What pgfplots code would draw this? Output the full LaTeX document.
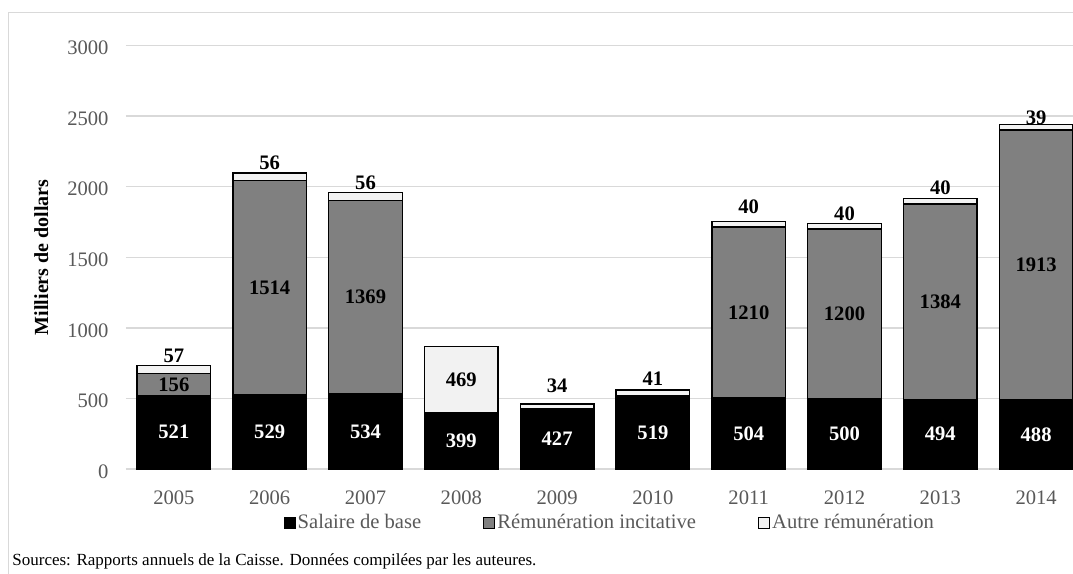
\documentclass[border=0pt]{standalone}
\usepackage{fontspec}
\setmainfont{Liberation Serif}
\usepackage{pgfplots}
\pgfplotsset{compat=1.18}
\usepackage{pgfplotstable}

\definecolor{gridgray}{HTML}{D9D9D9}
\definecolor{textgray}{HTML}{595959}
\definecolor{incitgray}{HTML}{808080}
\definecolor{autrefill}{HTML}{F2F2F2}

% Rémunération (milliers de dollars), 2005 = 0 ... 2014 = 9
\pgfplotstableread{
x y
0 521
1 529
2 534
3 399
4 427
5 519
6 504
7 500
8 494
9 488
}\salaire
\pgfplotstableread{
x y
0 156
1 1514
2 1369
3 0
4 0
5 0
6 1210
7 1200
8 1384
9 1913
}\incitative
% off: shift of the label from the middle of its segment (pt);
% small segments get their label above the bar
\pgfplotstableread{
x y off
0 57 7.0
1 56 7.0
2 56 7.0
3 469 0
4 34 10.3
5 41 7.0
6 40 8.6
7 40 6.1
8 40 6.6
9 39 4.6
}\autre

\newcommand{\labfont}{\fontsize{10.3}{12}\selectfont}

\begin{document}
\begin{tikzpicture}
\path[use as bounding box] (0,0) rectangle (536.5pt,287pt);
\clip (0,0) rectangle (536.5pt,287pt);
\draw[gridgray, line width=0.75pt] (4.2pt,-10pt) rectangle (600pt,280.7pt);
\begin{axis}[
  at={(63pt,52.5pt)}, anchor=south west,
  scale only axis, width=479pt, height=211.7pt,
  xmin=-0.5, xmax=9.5, ymin=0, ymax=3000,
  ybar stacked, bar width=0.769,
  axis line style={draw=none},
  major tick length=0pt,
  ymajorgrids, grid style={gridgray, line width=0.75pt},
  xtick={0,...,9},
  xticklabels={2005,2006,2007,2008,2009,2010,2011,2012,2013,2014},
  ytick={0,500,...,3000},
  /pgf/number format/1000 sep={},
  /pgf/number format/assume math mode=true,
  tick label style={font=\labfont, text=textgray},
  xticklabel style={anchor=center, yshift=-14.5pt},
  yticklabel style={anchor=east, xshift=-5.2pt, yshift=-1.2pt},
  ylabel={\bfseries Milliers de dollars},
  ylabel style={font=\labfont, text=black},
  every axis y label/.style={at={(axis description cs:-0.0885,0.5)}, rotate=90, anchor=center},
  point meta=rawy,
  visualization depends on={rawy \as \ry},
  nodes near coords={\ifdim\ry pt<1pt\else\pgfmathprintnumber[fixed,precision=0]{\ry}\fi},
  legend columns=3,
  legend style={at={(0.505,-0.127)}, anchor=center, draw=none, fill=none,
    font=\labfont, text=textgray,
    nodes={inner xsep=1pt},
    /tikz/every even column/.append style={column sep=30pt}},
  legend image code/.code={\draw[#1, draw=black, line width=0.6pt] (0pt,-2.8pt) rectangle (5.5pt,2.8pt);},
]
\addplot[fill=black, draw=black, line width=0.75pt,
  every node near coord/.style={font=\labfont\bfseries, anchor=center, text=white}]
  table[x=x, y=y] {\salaire};
\addlegendentry{Salaire de base}
\addplot[fill=incitgray, draw=black, line width=0.75pt,
  every node near coord/.style={font=\labfont\bfseries, anchor=center, text=black}]
  table[x=x, y=y] {\incitative};
\addlegendentry{Rémunération incitative}
\addplot[fill=autrefill, draw=black, line width=0.75pt,
  visualization depends on={\thisrow{off} \as \off},
  every node near coord/.style={font=\labfont\bfseries, anchor=center,
    text=black, yshift=\off pt}]
  table[x=x, y=y] {\autre};
\addlegendentry{Autre rémunération}
\end{axis}
\node[anchor=west, inner sep=0pt, font=\fontsize{8.5}{10}\selectfont] at (6pt,6.5pt)
  {Sources: Rapports annuels de la Caisse. Données compilées par les auteures.};
\end{tikzpicture}
\end{document}
